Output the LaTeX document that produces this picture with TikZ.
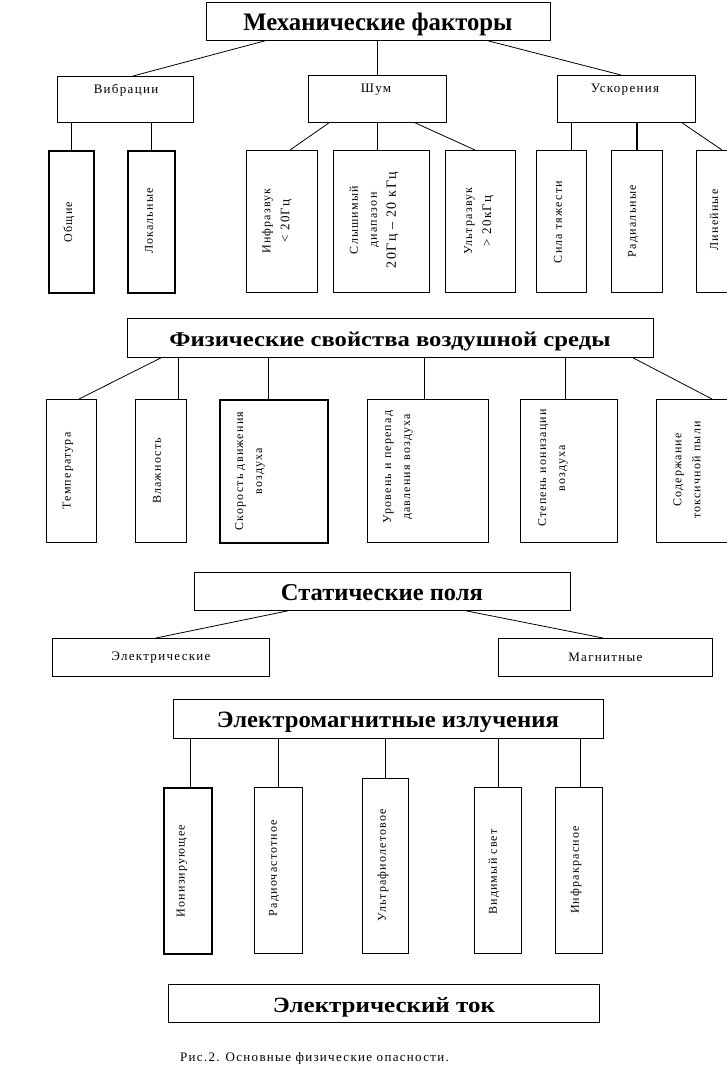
\documentclass[tikz,border=0pt]{standalone}
\usepackage{fontspec}
\setmainfont{Liberation Serif}
\newfontfamily\lblfont[LetterSpace=10]{Liberation Serif}
\usetikzlibrary{calc}
\newcommand\ttl[3]{\resizebox{#1}{#2}{\bfseries #3}}
\tikzset{
  x=1pt, y=-1pt,
  box/.style={draw, line width=0.8pt, inner sep=0pt, anchor=north west},
  tbox/.style={box, line width=1.5pt},
  vt/.style={rotate=90, inner sep=0pt, align=center, font=\lblfont\fontsize{12}{19}\selectfont},
  ht/.style={inner sep=0pt, font=\lblfont\fontsize{13}{15}\selectfont},
  tt/.style={inner sep=0pt, anchor=base},
  conn/.style={line width=0.8pt},
  tconn/.style={line width=1.8pt},
}
\begin{document}
\begin{tikzpicture}
\useasboundingbox (0,0) rectangle (727,1080);
\fill[white] (0,0) rectangle (727,1080);
\clip (0,0) rectangle (727,1080);

% ---------- Section 1 ----------
\node[box, minimum width=344pt, minimum height=38pt] (mech) at (206,2) {};
\node[tt] (mech-t) at (378,30) {\ttl{269pt}{17.5pt}{Механические факторы}};

\node[box, minimum width=136pt, minimum height=46pt] (vib) at (57,76) {};
\node[box, minimum width=138pt, minimum height=47pt] (shum) at (308,75) {};
\node[box, minimum width=138pt, minimum height=47pt] (usk) at (557,75) {};
\node[ht] (vib-t) at (126,90) {Вибрации};
\node[ht] (shum-t) at (376,90) {Шум};
\node[ht] (usk-t) at (625,90) {Ускорения};

\node[tbox, minimum width=45pt, minimum height=142pt] (obsh) at (48,150) {};
\node[tbox, minimum width=47pt, minimum height=142pt] (lok) at (127,150) {};
\node[box, minimum width=71pt, minimum height=142pt] (infra) at (246,150) {};
\node[box, minimum width=96pt, minimum height=142pt] (slysh) at (333,150) {};
\node[box, minimum width=70pt, minimum height=142pt] (ultra) at (445,150) {};
\node[box, minimum width=50pt, minimum height=142pt] (sila) at (536,150) {};
\node[box, minimum width=51pt, minimum height=142pt] (rad) at (611,150) {};
\node[box, minimum width=50pt, minimum height=142pt] (lin) at (696,150) {};

\node[vt] (obsh-t) at (69,222) {Общие};
\node[vt] (lok-t) at (149,221) {Локальные};
\node[vt] (infra-t) at (277,221) {Инфразвук\\{\fontsize{13}{19}\selectfont < 20Гц}};
\node[vt] (slysh-t) at (374,220) {Слышимый\\диапазон\\{\fontsize{14}{21}\selectfont 20Гц – 20 кГц}};
\node[vt] (ultra-t) at (479,221) {Ультразвук\\{\fontsize{13}{19}\selectfont > 20кГц}};
\node[vt] (sila-t) at (558,222) {Сила тяжести};
\node[vt] (rad-t) at (633,221) {Радиальные};
\node[vt] (lin-t) at (714,220) {Линейные};

\draw[conn] ([xshift=59pt]mech.south west) -- ([xshift=76pt]vib.north west);
\draw[conn] (shum.north |- mech.south) -- (shum.north);
\draw[conn] ([xshift=282pt]mech.south west) -- ([xshift=64pt]usk.north west);
\draw[conn] (obsh.north |- vib.south) -- (obsh.north);
\draw[conn] (lok.north |- vib.south) -- (lok.north);
\draw[conn] ([xshift=21pt]shum.south west) -- ([xshift=44pt]infra.north west);
\draw[conn] (shum.south) -- (shum.south |- slysh.north);
\draw[conn] ([xshift=107pt]shum.south west) -- ([xshift=30pt]ultra.north west);
\draw[conn] ([xshift=35pt]sila.north west |- usk.south) -- ([xshift=35pt]sila.north west);
\draw[tconn] (rad.north |- usk.south) -- (rad.north);
\draw[conn] ([xshift=125pt]usk.south west) -- ([xshift=26pt]lin.north west);

% ---------- Section 2 ----------
\node[box, minimum width=526pt, minimum height=39pt] (fiz) at (127,318) {};
\node[tt] (fiz-t) at (390,346) {\ttl{441pt}{14.5pt}{Физические свойства воздушной среды}};

\node[box, minimum width=50pt, minimum height=143pt] (temp) at (46,399) {};
\node[box, minimum width=51pt, minimum height=143pt] (vlazh) at (135,399) {};
\node[tbox, minimum width=108pt, minimum height=143pt] (skor) at (219,399) {};
\node[box, minimum width=121pt, minimum height=143pt] (urov) at (367,399) {};
\node[box, minimum width=97pt, minimum height=143pt] (ion) at (520,399) {};
\node[box, minimum width=90pt, minimum height=143pt] (sod) at (656,399) {};

\node[vt] (temp-t) at (68,471) {Температура};
\node[vt] (vlazh-t) at (157,471) {Влажность};
\node[vt] (skor-t) at (250,471) {Скорость движения\\воздуха};
\node[vt] (urov-t) at (398,467) {Уровень и перепад\\давления воздуха};
\node[vt] (ion-t) at (553,468) {Степень ионизации\\воздуха};
\node[vt] (sod-t) at (687,470) {Содержание\\токсичной пыли};

\draw[conn] ([xshift=34pt]fiz.south west) -- ([xshift=33pt]temp.north west);
\draw[conn] ([xshift=43pt]vlazh.north west |- fiz.south) -- ([xshift=43pt]vlazh.north west);
\draw[conn] ([xshift=49pt]skor.north west |- fiz.south) -- ([xshift=49pt]skor.north west);
\draw[conn] ([xshift=57pt]urov.north west |- fiz.south) -- ([xshift=57pt]urov.north west);
\draw[conn] ([xshift=45pt]ion.north west |- fiz.south) -- ([xshift=45pt]ion.north west);
\draw[conn] ([xshift=506pt]fiz.south west) -- ([xshift=56pt]sod.north west);

% ---------- Section 3 ----------
\node[box, minimum width=376pt, minimum height=38pt] (stat) at (194,572) {};
\node[tt] (stat-t) at (382,600) {\ttl{202pt}{16pt}{Статические поля}};
\node[box, minimum width=217pt, minimum height=38pt] (el) at (52,638) {};
\node[box, minimum width=214pt, minimum height=38pt] (mag) at (498,638) {};
\node[ht] (el-t) at (el.center) {Электрические};
\node[ht] (mag-t) at (mag.center) {Магнитные};
\draw[conn] ([xshift=94pt]stat.south west) -- ([xshift=104pt]el.north west);
\draw[conn] ([xshift=272pt]stat.south west) -- ([xshift=105pt]mag.north west);

% ---------- Section 4 ----------
\node[box, minimum width=430pt, minimum height=39pt] (em) at (173,699) {};
\node[tt] (em-t) at (388,727) {\ttl{342pt}{15.5pt}{Электромагнитные излучения}};

\node[tbox, minimum width=48pt, minimum height=166pt] (ion2) at (163,787) {};
\node[box, minimum width=48pt, minimum height=166pt] (radio) at (254,787) {};
\node[box, minimum width=46pt, minimum height=175pt] (uf) at (362,778) {};
\node[box, minimum width=47pt, minimum height=166pt] (vid) at (474,787) {};
\node[box, minimum width=47pt, minimum height=166pt] (ir) at (555,787) {};

\node[vt] (ion2-t) at (182,871) {Ионизирующее};
\node[vt] (radio-t) at (274,868) {Радиочастотное};
\node[vt] (uf-t) at (383,865) {Ультрафиолетовое};
\node[vt] (vid-t) at (494,872) {Видимый свет};
\node[vt] (ir-t) at (576,870) {Инфракрасное};

\draw[conn] ([xshift=27pt]ion2.north west |- em.south) -- ([xshift=27pt]ion2.north west);
\draw[tconn] (radio.north |- em.south) -- (radio.north);
\draw[conn] (uf.north |- em.south) -- (uf.north);
\draw[conn] (vid.north |- em.south) -- (vid.north);
\draw[conn] ([xshift=25pt]ir.north west |- em.south) -- ([xshift=25pt]ir.north west);

% ---------- Section 5 ----------
\node[box, minimum width=431pt, minimum height=38pt] (tok) at (168,984) {};
\node[tt] (tok-t) at (384,1012) {\ttl{222pt}{15pt}{Электрический ток}};

\node[ht, anchor=base west] (cap) at (180,1061) {Рис.2. Основные физические опасности.};
\end{tikzpicture}
\end{document}
